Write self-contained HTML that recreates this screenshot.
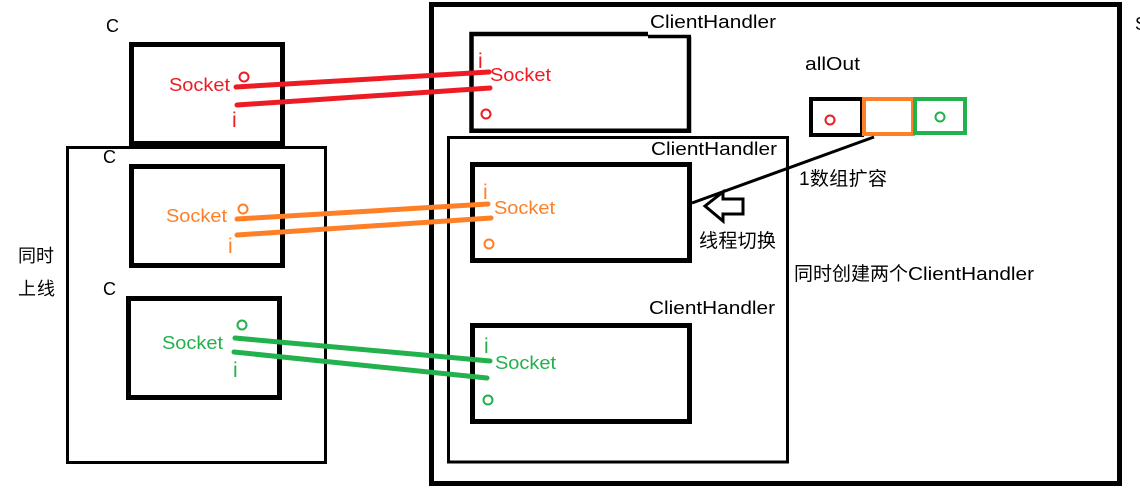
<!DOCTYPE html>
<html>
<head>
<meta charset="utf-8">
<style>
html,body{margin:0;padding:0;background:#fff;width:1140px;height:491px;overflow:hidden}
svg{display:block}
text{font-family:"Liberation Sans","Noto Sans CJK SC",sans-serif;font-size:18px;fill:#000}
.r{fill:#ed1c24}.o{fill:#ff7f27}.g{fill:#22b14c}
.i{font-size:21px}
.z{font-size:19px}
.b{fill:none;stroke:#000}
.l{fill:none;stroke-linecap:round;stroke-width:5}
.c{fill:none;stroke-width:2}
</style>
</head>
<body>
<svg width="1140" height="491" viewBox="0 0 1140 491" xmlns="http://www.w3.org/2000/svg">
<rect width="1140" height="491" fill="#fff"/>
<!-- server -->
<rect class="b" x="431.500" y="4.500" width="688" height="479" stroke-width="5"/>
<!-- left group -->
<rect class="b" x="67.500" y="147.500" width="258" height="315" stroke-width="3"/>
<!-- clients -->
<rect class="b" x="131.500" y="44.500" width="151" height="99" stroke-width="5"/>
<rect class="b" x="131.500" y="166.500" width="151" height="99" stroke-width="5"/>
<rect class="b" x="128.500" y="298.500" width="151" height="99" stroke-width="5"/>
<!-- handler group -->
<rect class="b" x="448.500" y="137.500" width="339" height="324.500" stroke-width="3"/>
<!-- handlers -->
<path class="b" d="M648 34H471.500V130.700H689V36.500" stroke-width="4.500"/>
<line x1="648" y1="36.500" x2="691" y2="36.500" stroke="#000" stroke-width="3.500"/>
<rect class="b" x="472.500" y="164.500" width="217" height="96" stroke-width="5"/>
<rect class="b" x="472.500" y="325.500" width="217" height="96" stroke-width="5"/>
<!-- array -->
<rect class="b" x="811" y="99" width="51" height="36" stroke-width="4"/>
<rect x="864" y="99" width="49" height="35" fill="none" stroke="#ff7f27" stroke-width="4"/>
<rect x="915" y="99" width="50" height="34" fill="none" stroke="#22b14c" stroke-width="4"/>
<circle class="c" cx="830" cy="120" r="4.500" stroke="#ed1c24"/>
<circle class="c" cx="940" cy="117" r="4.500" stroke="#22b14c"/>
<!-- black connector -->
<line x1="692" y1="203" x2="874" y2="137" stroke="#000" stroke-width="3"/>
<!-- arrow -->
<path d="M705 206L723 192V199H743V214H723V221Z" fill="#fff" stroke="#000" stroke-width="3"/>
<!-- coloured lines -->
<path class="l" stroke="#ed1c24" d="M236 87L489 72M237 105L490 88"/>
<path class="l" stroke="#ff7f27" d="M237 219L488 204M237 235L491 218"/>
<path class="l" stroke="#22b14c" d="M235 338L490 361M234 352L487 378"/>
<!-- small circles -->
<circle class="c" cx="244" cy="77" r="4.500" stroke="#ed1c24"/>
<circle class="c" cx="486" cy="114" r="4.500" stroke="#ed1c24"/>
<circle class="c" cx="243" cy="209" r="4.500" stroke="#ff7f27"/>
<circle class="c" cx="489" cy="244" r="4.500" stroke="#ff7f27"/>
<circle class="c" cx="242" cy="325" r="4.500" stroke="#22b14c"/>
<circle class="c" cx="488" cy="400" r="4.500" stroke="#22b14c"/>
<!-- labels -->
<text x="106" y="32">C</text>
<text x="103" y="163">C</text>
<text x="103" y="295">C</text>
<text x="1135" y="30">S</text>
<text x="18" y="262" textLength="36">同时</text>
<text x="18" y="295" textLength="37">上线</text>
<text class="r" x="169" y="91" textLength="61" lengthAdjust="spacingAndGlyphs">Socket</text>
<text class="o" x="166" y="222" textLength="61" lengthAdjust="spacingAndGlyphs">Socket</text>
<text class="g" x="162" y="349" textLength="61" lengthAdjust="spacingAndGlyphs">Socket</text>
<text class="r" x="490" y="81" textLength="61" lengthAdjust="spacingAndGlyphs">Socket</text>
<text class="o" x="494" y="214" textLength="61" lengthAdjust="spacingAndGlyphs">Socket</text>
<text class="g" x="495" y="369" textLength="61" lengthAdjust="spacingAndGlyphs">Socket</text>
<text class="r i" x="232" y="127">i</text>
<text class="o i" x="228" y="253">i</text>
<text class="g i" x="233" y="377">i</text>
<text class="r i" x="478" y="68">i</text>
<text class="o i" x="483" y="199">i</text>
<text class="g i" x="484" y="353">i</text>
<text x="650" y="28" textLength="126" lengthAdjust="spacingAndGlyphs">ClientHandler</text>
<text x="651" y="155" textLength="126" lengthAdjust="spacingAndGlyphs">ClientHandler</text>
<text x="649" y="314" textLength="126" lengthAdjust="spacingAndGlyphs">ClientHandler</text>
<text x="805" y="70" textLength="55" lengthAdjust="spacingAndGlyphs">allOut</text>
<text class="z" x="799" y="185" textLength="88">1数组扩容</text>
<text class="z" x="699" y="247" textLength="77">线程切换</text>
<text class="z" x="794" y="280" textLength="114">同时创建两个</text>
<text x="908" y="280" textLength="126" lengthAdjust="spacingAndGlyphs">ClientHandler</text>
</svg>
</body>
</html>
